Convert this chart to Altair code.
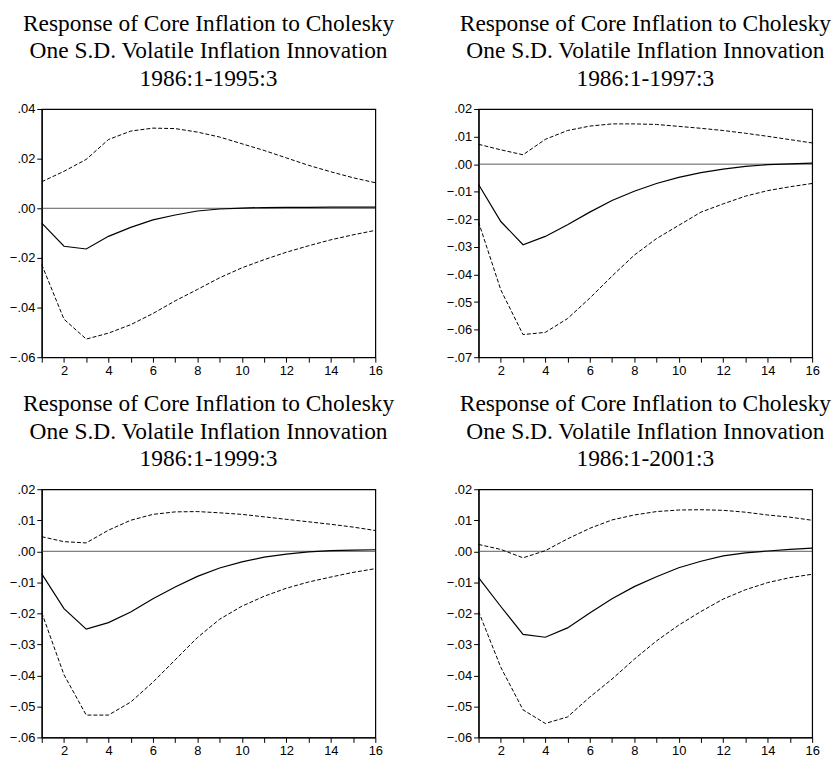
import altair as alt
import pandas as pd

horizons = list(range(1, 17))

title_line1 = "Response of Core Inflation to Cholesky"
title_line2 = "One S.D. Volatile Inflation Innovation"
periods = ["1986:1-1995:3", "1986:1-1997:3", "1986:1-1999:3", "1986:1-2001:3"]

# Panel 1: 1986:1-1995:3
p1_resp = [-0.0060, -0.0153, -0.0164, -0.0113, -0.0077, -0.0047, -0.0027, -0.0011,
           -0.0003, 0.0001, 0.0003, 0.0004, 0.0004, 0.0005, 0.0005, 0.0005]
p1_upper = [0.0107, 0.0149, 0.0197, 0.0277, 0.0311, 0.0323, 0.0321, 0.0307,
            0.0287, 0.0260, 0.0233, 0.0203, 0.0173, 0.0147, 0.0123, 0.0103]
p1_lower = [-0.0227, -0.0447, -0.0527, -0.0503, -0.0469, -0.0424, -0.0373, -0.0327,
            -0.0280, -0.0240, -0.0207, -0.0177, -0.0151, -0.0127, -0.0107, -0.0089]

# Panel 2: 1986:1-1997:3
p2_resp = [-0.0074, -0.0208, -0.0292, -0.0262, -0.0220, -0.0174, -0.0132, -0.0098,
           -0.0070, -0.0048, -0.0031, -0.0018, -0.0008, -0.0002, 0.0001, 0.0004]
p2_upper = [0.0072, 0.0052, 0.0034, 0.0090, 0.0122, 0.0138, 0.0146, 0.0146,
            0.0144, 0.0137, 0.0130, 0.0122, 0.0112, 0.0101, 0.0089, 0.0077]
p2_lower = [-0.0210, -0.0456, -0.0618, -0.0610, -0.0560, -0.0486, -0.0406, -0.0330,
            -0.0270, -0.0222, -0.0174, -0.0144, -0.0116, -0.0096, -0.0082, -0.0070]

# Panel 3: 1986:1-1999:3
p3_resp = [-0.0073, -0.0185, -0.0251, -0.0230, -0.0196, -0.0153, -0.0115, -0.0081,
           -0.0054, -0.0034, -0.0019, -0.0009, -0.0002, 0.0002, 0.0004, 0.0005]
p3_upper = [0.0047, 0.0031, 0.0027, 0.0068, 0.0100, 0.0119, 0.0127, 0.0128,
            0.0124, 0.0119, 0.0111, 0.0103, 0.0095, 0.0087, 0.0078, 0.0067]
p3_lower = [-0.0198, -0.0398, -0.0528, -0.0528, -0.0486, -0.0422, -0.0350, -0.0278,
            -0.0219, -0.0177, -0.0145, -0.0119, -0.0099, -0.0083, -0.0068, -0.0056]

# Panel 4: 1986:1-2001:3
p4_resp = [-0.0085, -0.0178, -0.0268, -0.0277, -0.0247, -0.0199, -0.0153, -0.0114,
           -0.0082, -0.0053, -0.0032, -0.0015, -0.0005, 0.0001, 0.0006, 0.0010]
p4_upper = [0.0022, 0.0006, -0.0021, 0.0002, 0.0040, 0.0074, 0.0101, 0.0117,
            0.0128, 0.0133, 0.0134, 0.0132, 0.0126, 0.0117, 0.0110, 0.0100]
p4_lower = [-0.0194, -0.0374, -0.0511, -0.0555, -0.0534, -0.0470, -0.0412, -0.0348,
            -0.0289, -0.0238, -0.0194, -0.0154, -0.0124, -0.0101, -0.0085, -0.0074]

y_domains = [(-0.06, 0.04), (-0.07, 0.02), (-0.06, 0.02), (-0.06, 0.02)]
y_ticks = [
    [-0.06, -0.04, -0.02, 0.00, 0.02, 0.04],
    [-0.07, -0.06, -0.05, -0.04, -0.03, -0.02, -0.01, 0.00, 0.01, 0.02],
    [-0.06, -0.05, -0.04, -0.03, -0.02, -0.01, 0.00, 0.01, 0.02],
    [-0.06, -0.05, -0.04, -0.03, -0.02, -0.01, 0.00, 0.01, 0.02],
]

panels_data = [
    (p1_resp, p1_upper, p1_lower),
    (p2_resp, p2_upper, p2_lower),
    (p3_resp, p3_upper, p3_lower),
    (p4_resp, p4_upper, p4_lower),
]

W, H = 336, 250


def make_panel(i):
    resp, upper, lower = panels_data[i]
    df = pd.DataFrame({
        "h": horizons * 3,
        "v": resp + upper + lower,
        "s": ["resp"] * 16 + ["upper"] * 16 + ["lower"] * 16,
    })
    zero_df = pd.DataFrame({"h": [1], "v": [0.0], "s": ["zero"]})
    ymin, ymax = y_domains[i]
    x = alt.X("h:Q",
              scale=alt.Scale(domain=[1, 16], nice=False, zero=False),
              axis=alt.Axis(values=horizons, title=None, grid=False,
                            labelExpr="datum.value % 2 == 0 ? datum.value : ''",
                            labelFlush=False, labelOverlap=False))
    y = alt.Y("v:Q",
              scale=alt.Scale(domain=[ymin, ymax], nice=False, zero=False),
              axis=alt.Axis(values=y_ticks[i], title=None, grid=False,
                            labelExpr="replace(format(datum.value, '.2f'), '0.', '.')",
                            labelFlush=False, labelOverlap=False))
    base = alt.Chart(df)
    zero = alt.Chart(zero_df).mark_rule(
        color="#333333", strokeWidth=0.8).encode(y=y)
    dashed = base.transform_filter(alt.datum.s != "resp").mark_line(
        color="black", strokeWidth=1, strokeDash=[4, 2]).encode(
        x=x, y=y, detail="s:N")
    solid = base.transform_filter(alt.datum.s == "resp").mark_line(
        color="black", strokeWidth=1.2).encode(x=x, y=y)
    return alt.layer(zero, dashed, solid).properties(
        width=W, height=H,
        title=alt.TitleParams(
            text=[title_line1, title_line2, periods[i]],
            font="Liberation Serif", fontSize=23.6, fontWeight="normal",
            lineHeight=27.5, color="black", anchor="middle", frame="group",
            offset=13),
    )


row1 = alt.hconcat(make_panel(0), make_panel(1), spacing=50)
row2 = alt.hconcat(make_panel(2), make_panel(3), spacing=50)
chart = alt.vconcat(row1, row2, spacing=13).properties(
    padding={"left": 0, "top": 0, "right": 0, "bottom": 0}
).configure_view(
    stroke="black", strokeWidth=1.2
).configure_axis(
    labelFont="Liberation Sans", labelFontSize=13, labelColor="black",
    tickColor="black", domainColor="black", tickSize=5, labelPadding=2,
    domainWidth=1.2, tickWidth=1
)

chart.save("out.html", embed_options={"renderer": "svg", "actions": False})
